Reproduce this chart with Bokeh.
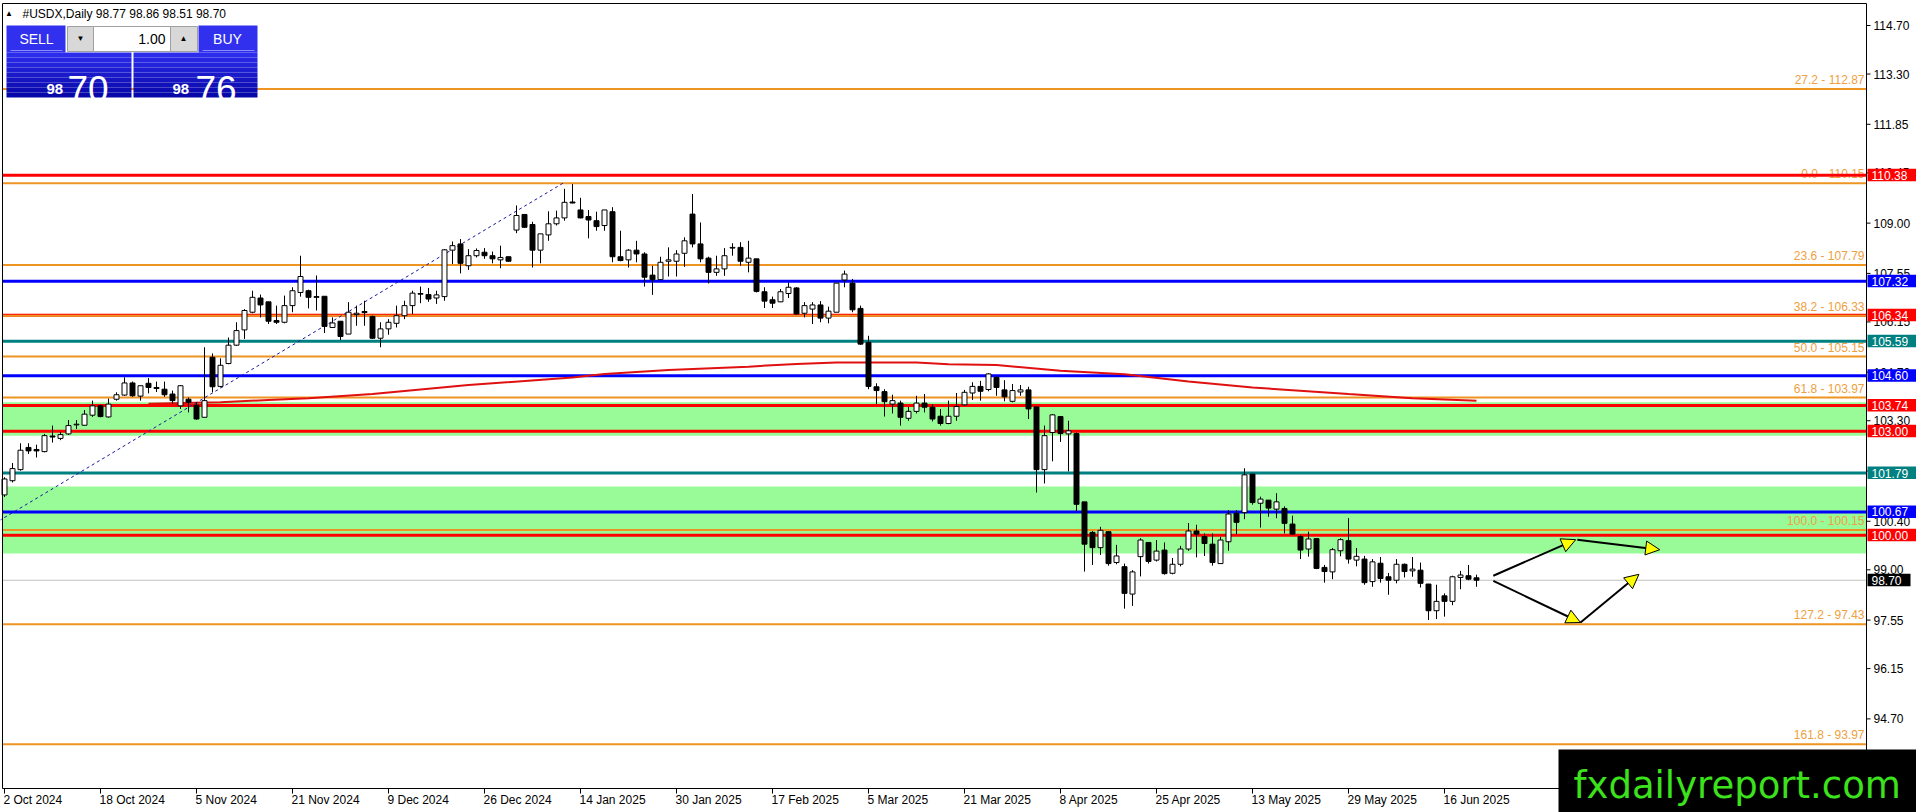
from bokeh.plotting import figure
from bokeh.models import Range1d, Arrow, NormalHead
from bokeh.embed import file_html
from bokeh.resources import INLINE
from bokeh.core.properties import value

# ---------------- data ----------------
opens = [101.16, 101.57, 101.89, 102.53, 102.47, 102.41, 102.86, 102.79, 102.92, 103.18,
         103.17, 103.46, 103.73, 103.41, 103.92, 104.04, 104.39, 104.01, 104.38, 104.26,
         104.21, 104.07, 103.73, 103.92, 103.75, 103.40, 105.13, 104.29, 104.95, 105.48,
         105.92, 106.43, 106.84, 106.73, 106.19, 106.14, 106.62, 107.00, 107.05, 106.88,
         106.89, 105.99, 106.17, 105.80, 106.36, 106.45, 106.31, 105.68, 105.95, 106.11,
         106.33, 106.62, 106.97, 106.94, 106.84, 106.88, 108.22, 108.40, 107.77, 108.06,
         108.16, 108.06, 107.94, 108.03, 108.80, 109.25, 108.96, 108.22, 108.66, 108.98,
         109.15, 109.61, 109.38, 109.19, 109.07, 108.93, 109.33, 108.03, 107.94, 108.22,
         108.11, 107.50, 107.37, 107.90, 107.90, 108.13, 109.26, 108.40, 107.99, 107.58,
         107.68, 108.28, 108.30, 107.87, 107.97, 107.02, 106.79, 106.73, 106.97, 107.13,
         106.40, 106.52, 106.64, 106.26, 106.43, 107.36, 107.27, 106.54, 105.56, 104.28,
         104.14, 103.78, 103.81, 103.37, 103.57, 103.81, 103.69, 103.43, 103.22, 103.43,
         103.76, 104.10, 104.29, 104.20, 104.55, 104.19, 103.86, 104.13, 104.19, 103.70,
         101.89, 102.96, 103.42, 102.92, 102.93, 100.96, 100.08, 99.64, 100.10, 99.21,
         99.09, 98.30, 99.38, 99.79, 99.28, 99.57, 98.90, 99.16, 99.60, 100.12,
         99.96, 99.74, 99.18, 99.81, 100.63, 100.65, 101.76, 100.92, 101.01, 100.75,
         100.77, 100.32, 99.96, 99.60, 99.90, 99.07, 98.94, 99.55, 99.84, 99.28,
         99.31, 98.66, 99.19, 98.80, 98.70, 99.16, 98.97, 98.99, 98.59, 97.82,
         98.25, 98.09, 98.78, 98.83, 98.77]
highs = [101.67, 102.08, 102.65, 102.65, 102.61, 102.92, 103.16, 102.98, 103.32, 103.32,
         103.61, 103.88, 103.76, 103.94, 104.12, 104.55, 104.43, 104.31, 104.53, 104.43,
         104.43, 104.17, 104.33, 103.97, 103.83, 105.42, 105.24, 105.10, 105.70, 106.14,
         106.52, 107.05, 106.94, 106.73, 106.62, 106.91, 107.15, 108.06, 107.08, 107.49,
         106.89, 106.28, 106.17, 106.72, 106.62, 106.76, 106.33, 106.14, 106.23, 106.62,
         106.76, 107.05, 107.17, 107.13, 107.05, 108.25, 108.47, 108.54, 108.25, 108.27,
         108.28, 108.18, 108.35, 108.03, 109.51, 109.25, 109.04, 108.69, 109.34, 109.36,
         109.99, 110.13, 109.73, 109.38, 109.33, 109.38, 109.46, 108.78, 108.25, 108.49,
         108.16, 107.77, 108.03, 108.30, 108.22, 108.59, 109.84, 109.02, 108.03, 108.06,
         108.28, 108.42, 108.45, 108.49, 107.97, 107.15, 106.88, 107.10, 107.29, 107.15,
         106.72, 106.72, 106.75, 106.59, 107.27, 107.63, 107.39, 106.62, 105.75, 104.38,
         104.21, 104.05, 103.88, 103.70, 104.02, 104.07, 103.78, 103.64, 103.88, 104.10,
         104.19, 104.41, 104.45, 104.67, 104.60, 104.47, 104.36, 104.33, 104.28, 103.70,
         103.16, 103.49, 103.42, 103.30, 102.96, 100.96, 100.12, 100.24, 100.10, 99.72,
         99.18, 98.99, 99.91, 99.79, 99.86, 99.79, 99.34, 99.69, 100.35, 100.30,
         100.05, 100.05, 99.95, 100.72, 100.72, 101.93, 101.76, 101.11, 101.01, 101.21,
         100.83, 100.56, 100.00, 100.10, 99.90, 99.14, 99.63, 99.91, 100.49, 99.63,
         99.40, 99.31, 99.37, 98.91, 99.31, 99.18, 99.37, 99.21, 98.59, 98.57,
         98.32, 98.83, 98.97, 99.14, 98.86]
lows = [101.10, 101.52, 101.86, 102.34, 102.24, 102.39, 102.67, 102.74, 102.89, 103.06,
        103.16, 103.41, 103.40, 103.39, 103.88, 104.02, 103.99, 103.88, 104.09, 104.13,
        103.99, 103.78, 103.64, 103.54, 103.33, 103.39, 104.12, 104.26, 104.93, 105.46,
        105.66, 106.40, 106.28, 106.09, 106.09, 106.11, 106.43, 106.88, 106.54, 106.48,
        105.83, 105.99, 105.63, 105.80, 106.04, 106.04, 105.66, 105.42, 105.78, 105.99,
        106.23, 106.38, 106.69, 106.73, 106.67, 106.76, 107.82, 107.55, 107.65, 108.01,
        107.97, 107.84, 107.70, 107.89, 108.71, 108.86, 107.72, 107.84, 108.49, 108.93,
        109.07, 109.57, 109.14, 108.56, 108.78, 108.78, 107.87, 107.90, 107.72, 107.87,
        107.17, 106.93, 107.37, 107.46, 107.46, 107.74, 108.30, 107.87, 107.26, 107.48,
        107.48, 108.06, 107.77, 107.58, 107.00, 106.55, 106.55, 106.72, 106.84, 106.36,
        106.28, 106.09, 106.14, 106.11, 106.43, 107.15, 106.43, 105.49, 104.21, 103.78,
        103.42, 103.51, 103.16, 103.30, 103.51, 103.54, 103.28, 103.16, 103.20, 103.30,
        103.74, 103.90, 103.88, 104.15, 104.02, 103.86, 103.83, 104.02, 103.35, 101.23,
        101.49, 102.13, 102.69, 101.84, 100.70, 98.95, 99.14, 99.43, 99.12, 99.16,
        97.88, 97.96, 98.81, 99.18, 99.24, 98.86, 98.87, 99.10, 99.55, 99.36,
        99.40, 99.12, 99.18, 99.55, 100.03, 100.46, 100.88, 100.22, 100.53, 100.49,
        100.05, 100.01, 99.31, 99.38, 99.02, 98.63, 98.73, 99.39, 99.18, 99.10,
        98.57, 98.51, 98.63, 98.28, 98.61, 98.78, 98.80, 98.49, 97.55, 97.58,
        97.65, 97.98, 98.44, 98.70, 98.51]
closes = [101.62, 101.92, 102.45, 102.43, 102.43, 102.87, 102.83, 102.90, 103.16, 103.20,
          103.49, 103.73, 103.42, 103.78, 104.05, 104.39, 104.02, 104.31, 104.26, 104.23,
          104.05, 103.88, 104.31, 103.83, 103.35, 103.88, 104.28, 104.90, 105.48, 105.90,
          106.48, 106.86, 106.64, 106.17, 106.14, 106.62, 107.05, 107.46, 106.86, 106.86,
          106.02, 106.12, 105.73, 106.43, 106.40, 106.42, 105.68, 105.95, 106.14, 106.33,
          106.62, 106.98, 106.95, 106.81, 106.93, 108.23, 108.35, 107.84, 108.06, 108.21,
          108.06, 107.97, 108.01, 107.90, 109.22, 108.88, 108.22, 108.69, 108.98, 109.15,
          109.60, 109.58, 109.15, 109.09, 108.90, 109.38, 108.03, 107.92, 108.22, 108.11,
          107.44, 107.37, 107.87, 107.94, 108.11, 108.49, 108.40, 107.97, 107.58, 107.68,
          108.06, 108.30, 107.90, 107.99, 107.03, 106.75, 106.69, 107.02, 107.15, 106.38,
          106.62, 106.64, 106.26, 106.46, 107.27, 107.53, 106.50, 105.51, 104.29, 104.17,
          103.85, 103.88, 103.40, 103.57, 103.81, 103.69, 103.35, 103.22, 103.43, 103.71,
          104.12, 104.29, 104.15, 104.65, 104.26, 103.99, 104.17, 104.19, 103.64, 101.89,
          102.87, 103.47, 102.93, 103.01, 100.89, 99.74, 99.64, 100.14, 99.18, 99.40,
          98.32, 98.94, 99.86, 99.24, 99.54, 98.89, 99.16, 99.60, 100.12, 100.03,
          99.76, 99.21, 99.86, 100.61, 100.37, 101.74, 100.94, 101.04, 100.78, 100.96,
          100.34, 100.03, 99.57, 99.89, 99.04, 98.95, 99.58, 99.87, 99.31, 99.39,
          98.63, 99.23, 98.75, 98.70, 99.16, 98.95, 99.02, 98.61, 97.82, 98.09,
          98.09, 98.80, 98.85, 98.73, 98.70]

# slow moving average (red curve), read at selected bars
ma_x = [18, 27, 33, 38, 46, 58, 71, 75, 83, 93, 99, 104, 114, 118, 124, 132, 140, 148, 156, 168, 176, 184]
ma_y = [103.79, 103.83, 103.90, 103.95, 104.07, 104.33, 104.55, 104.65, 104.76, 104.86, 104.94,
        104.98, 104.98, 104.93, 104.91, 104.74, 104.64, 104.43, 104.26, 104.07, 103.95, 103.88]

# fibonacci anchor trend line (low -> high)
trend_x = [-2.6, 69.8]
trend_y = [100.15, 110.15]

fib_levels = [112.87, 110.15, 107.79, 106.33, 105.15, 103.97, 100.15, 97.43, 93.97]
fib_texts = ["27.2 - 112.87", "0.0 - 110.15", "23.6 - 107.79", "38.2 - 106.33", "50.0 - 105.15",
             "61.8 - 103.97", "100.0 - 100.15", "127.2 - 97.43", "161.8 - 93.97"]

sr_levels = [110.38, 107.32, 106.34, 105.59, 104.60, 103.74, 103.00, 101.79, 100.67, 100.00]
sr_colors = ["#FF0000", "#0000FF", "#FF0000", "#008080", "#0000FF", "#FF0000", "#FF0000",
             "#008080", "#0000FF", "#FF0000"]

zone_low = [102.87, 99.47]
zone_high = [103.83, 101.40]

last_price = 98.70
bid_text = "98"
bid_big = "70"
ask_text = "98"
ask_big = "76"
header_text = "#USDX,Daily  98.77 98.86 98.51 98.70"
lot_text = "1.00"
watermark = "fxdailyreport.com"

# projected path arrows (bar index, price)
arrow_x0 = [186.1, 196.6, 186.1, 197.0]
arrow_y0 = [98.83, 99.87, 98.68, 97.48]
arrow_x1 = [196.4, 206.9, 197.0, 204.3]
arrow_y1 = [99.87, 99.58, 97.48, 98.87]

date_tick_idx = [0, 12, 24, 36, 48, 60, 72, 84, 96, 108, 120, 132, 144, 156, 168, 180]
date_tick_labels = ["2 Oct 2024", "18 Oct 2024", "5 Nov 2024", "21 Nov 2024", "9 Dec 2024",
                    "26 Dec 2024", "14 Jan 2025", "30 Jan 2025", "17 Feb 2025", "5 Mar 2025",
                    "21 Mar 2025", "8 Apr 2025", "25 Apr 2025", "13 May 2025", "29 May 2025",
                    "16 Jun 2025"]
price_ticks = [94.70, 96.15, 97.55, 99.00, 100.40, 101.85, 103.30, 104.70, 106.15, 107.55,
               109.00, 110.45, 111.85, 113.30, 114.70]

# ---------------- layout (pixel geometry of the canvas) ----------------
W, H = 1916, 812
BAR_PX = 8.0
PPU = 34.67
X_LEFT = -0.5
Y_TOP = 114.70 + 25 / PPU
FONT = "Liberation Sans"
CL, CR, CT, CB = 2, 1866, 3, 788


def qx(px):
    return X_LEFT + px / BAR_PX


def qy(py):
    return Y_TOP - py / PPU


p = figure(width=W, height=H, output_backend="svg", toolbar_location=None,
           x_range=Range1d(qx(0), qx(W)), y_range=Range1d(qy(H), qy(0)),
           x_axis_type=None, y_axis_type=None, min_border=0)
p.outline_line_color = None
p.background_fill_color = "white"
p.border_fill_color = "white"


def hlines(levels, colors, width):
    n = len(levels)
    p.segment(x0=[qx(CL)] * n, x1=[qx(CR)] * n, y0=levels, y1=levels,
              line_color=colors, line_width=width)


def texts(xs, ys, txt, size, color, align="left", baseline="middle", style="normal", font=FONT):
    p.text(x=xs, y=ys, text=txt, text_font=value(font), text_font_size=size,
           text_color=color, text_align=align, text_baseline=baseline, text_font_style=style)


def box(x0, y0, x1, y1, fill, line=None):
    p.quad(left=qx(x0), right=qx(x1), top=qy(y0), bottom=qy(y1), fill_color=fill, line_color=line)


# zones
p.quad(left=qx(CL), right=qx(CR), bottom=zone_low, top=zone_high, fill_color="#98FB98", line_color=None)
# current price line
hlines([last_price], "#C0C0C0", 1)
# fib texts
texts([qx(1864)] * len(fib_levels), [v + 2 / PPU for v in fib_levels], fib_texts, "12px",
      "#F0A040", align="right", baseline="bottom")
# support / resistance lines
hlines(sr_levels, sr_colors, 3)
# fib lines
hlines(fib_levels, "#EE9422", 2)
# moving average
p.line(ma_x, ma_y, line_color="#E01010", line_width=2)
# trend line
p.line(trend_x, trend_y, line_color="#1818A0", line_width=1, line_dash="3 3")

# candles
idx = list(range(len(opens)))
p.segment(x0=idx, y0=lows, x1=idx, y1=highs, line_color="black", line_width=1)
tops, bots, fills = [], [], []
for o, c in zip(opens, closes):
    hi, lo = max(o, c), min(o, c)
    if hi - lo < 0.02:
        mid = (hi + lo) / 2
        hi, lo = mid + 0.01, mid - 0.01
    tops.append(hi)
    bots.append(lo)
    fills.append("white" if c >= o else "black")
p.vbar(x=idx, width=0.62, top=tops, bottom=bots, fill_color=fills, line_color="black", line_width=1)

# arrows
for xa, ya, xb, yb in zip(arrow_x0, arrow_y0, arrow_x1, arrow_y1):
    p.add_layout(Arrow(x_start=xa, y_start=ya, x_end=xb, y_end=yb, line_color="black", line_width=2,
                       end=NormalHead(size=14, fill_color="#FFFF00", line_color="black", line_width=1)))

# chart frame and axes
p.segment(x0=[qx(CL), qx(CL), qx(CR), qx(CL)], y0=[qy(CT), qy(CT), qy(CT), qy(CB)],
          x1=[qx(CL), qx(CR), qx(CR), qx(CR)], y1=[qy(CB), qy(CT), qy(CB), qy(CB)],
          line_color="black", line_width=1)
nt = len(price_ticks)
p.segment(x0=[qx(CR)] * nt, x1=[qx(CR + 4)] * nt, y0=price_ticks, y1=price_ticks, line_color="black")
texts([qx(1873)] * nt, price_ticks, ["%.2f" % v for v in price_ticks], "12px", "black")
nd = len(date_tick_idx)
p.segment(x0=date_tick_idx, x1=date_tick_idx, y0=[qy(CB)] * nd, y1=[qy(CB + 5)] * nd, line_color="black")
texts([i - 0.125 for i in date_tick_idx], [qy(799)] * nd, date_tick_labels, "12px", "black")

# price tags on the right axis
tag_levels = sr_levels + [last_price]
tag_colors = sr_colors + ["black"]
tag_right = [qx(W)] * len(sr_levels) + [qx(1910)]
p.quad(left=[qx(1867)] * len(tag_levels), right=tag_right,
       top=[v + 6.5 / PPU for v in tag_levels], bottom=[v - 6.0 / PPU for v in tag_levels],
       fill_color=tag_colors, line_color=None)
texts([qx(1871)] * len(tag_levels), tag_levels, ["%.2f" % v for v in tag_levels], "12px", "white")

# ---------------- trade panel ----------------
box(6, 25, 65, 52, "#3030EE")
box(198, 25, 257, 52, "#3030EE")
p.segment(x0=[qx(10), qx(202)], y0=[qy(50), qy(50)], x1=[qx(62), qx(254)], y1=[qy(50), qy(50)],
          line_color="#8A8AFF", line_width=1)
box(67, 26, 93, 51, "#D8D8D8", "#A0A0A0")
box(93, 26, 170, 51, "white", "#A0A0A0")
box(170, 26, 197, 51, "#D8D8D8", "#A0A0A0")
nstrip = 9
for k in range(nstrip):
    t = k / (nstrip - 1)
    r = int(44 - 36 * t)
    b = int(236 - 66 * t)
    col = "#%02x%02x%02x" % (r, r, b)
    ya = 52 + k * 5
    box(6, ya, 131, ya + 5, col)
    box(133, ya, 257, ya + 5, col)

texts([qx(8.5)], [qy(13)], ["\u25b2"], "8px", "black", align="center")
texts([qx(22)], [qy(13)], [header_text], "12px", "black")
texts([qx(36)], [qy(38)], ["SELL"], "14px", "white", align="center")
texts([qx(227)], [qy(38)], ["BUY"], "14px", "white", align="center")
texts([qx(165)], [qy(38)], [lot_text], "14px", "black", align="right")
texts([qx(80)], [qy(38)], ["\u25bc"], "8px", "black", align="center")
texts([qx(183)], [qy(38)], ["\u25b2"], "8px", "black", align="center")
texts([qx(46)], [qy(88)], [bid_text], "15px", "white", baseline="alphabetic", style="bold")
texts([qx(67)], [qy(88)], [bid_big], "37px", "white", baseline="alphabetic")
texts([qx(172)], [qy(88)], [ask_text], "15px", "white", baseline="alphabetic", style="bold")
texts([qx(195)], [qy(88)], [ask_big], "37px", "white", baseline="alphabetic")

# watermark
box(1558, 749, W, H, "black")
texts([qx(1573)], [qy(785)], [watermark], "37px", "#3CE21C", baseline="alphabetic", font="DejaVu Sans")

open("out.html", "w").write(file_html(p, INLINE))
